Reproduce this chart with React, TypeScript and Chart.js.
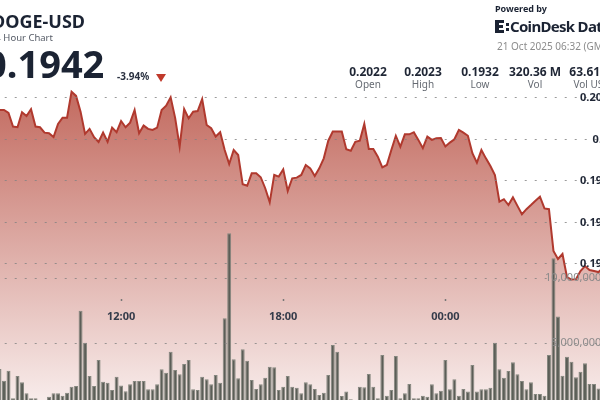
import React, { useEffect, useRef } from 'react';
import { Chart, registerables } from 'chart.js';

Chart.register(...registerables);

// 10-minute candles, 20 Oct 06:40 -> 21 Oct 06:30 (GMT)
const timeLabels: string[] = (() => {
  const out: string[] = [];
  for (let k = 0; k < 144; k++) {
    const m = 6 * 60 + 40 + k * 10;
    const h = Math.floor(m / 60) % 24;
    const mm = m % 60;
    out.push(`${String(h).padStart(2, '0')}:${String(mm).padStart(2, '0')}`);
  }
  return out;
})();

const xTickLabels = ['12:00', '18:00', '00:00'];
const volumeTickValues = [5000000, 10000000];

const prices = [
  0.20214, 0.20190, 0.20171, 0.20152, 0.20161, 0.20142, 0.20142, 0.20128, 0.20062, 0.20059,
  0.20131, 0.20113, 0.20146, 0.20062, 0.20059, 0.20033, 0.20030, 0.20012, 0.20075, 0.20105,
  0.20105, 0.20230, 0.20210, 0.20134, 0.20027, 0.20051, 0.20011, 0.19988, 0.20033, 0.19989,
  0.20057, 0.20035, 0.20089, 0.20059, 0.20081, 0.20142, 0.20030, 0.20067, 0.20051, 0.20046,
  0.20057, 0.20142, 0.20163, 0.20203, 0.20104, 0.19965, 0.20147, 0.20102, 0.20134, 0.20137,
  0.20195, 0.20070, 0.20054, 0.20014, 0.20035, 0.19949, 0.19882, 0.19949, 0.19925, 0.19784,
  0.19777, 0.19837, 0.19837, 0.19818, 0.19765, 0.19697, 0.19829, 0.19821, 0.19856, 0.19752,
  0.19813, 0.19816, 0.19829, 0.19877, 0.19861, 0.19824, 0.19861, 0.19909, 0.19994, 0.20038,
  0.20038, 0.20038, 0.19953, 0.19946, 0.19989, 0.19994, 0.20075, 0.19954, 0.19954, 0.19917,
  0.19866, 0.19877, 0.19949, 0.20017, 0.19965, 0.20025, 0.20025, 0.20035, 0.19998, 0.19958,
  0.20014, 0.19998, 0.20006, 0.20007, 0.19966, 0.19985, 0.20001, 0.20046, 0.20033, 0.20018,
  0.19934, 0.19888, 0.19949, 0.19909, 0.19872, 0.19829, 0.19700, 0.19712, 0.19684, 0.19721,
  0.19680, 0.19640, 0.19664, 0.19684, 0.19705, 0.19724, 0.19668, 0.19664, 0.19463, 0.19424,
  0.19448, 0.19337, 0.19325, 0.19327, 0.19366, 0.19390, 0.19371, 0.19366, 0.19361, 0.19381,
  0.19395, 0.19410, 0.19415, 0.19420,
];

// volume in millions of DOGE
const volumesM = [
  1.8, 2.2, 1.5, 2.5, 1.9, 3.0, 2.1,
  2.87, 0.75, 2.46, 1.98, 1.13, 0.75, 0.75,
  0.62, 0.56, 0.87, 1.13, 1.13, 0.95, 1.18,
  1.64, 1.69, 7.48, 5.02, 2.46, 1.69, 3.69,
  2.02, 1.95, 1.38, 2.41, 1.74, 1.28, 1.82,
  2.08, 2.08, 2.08, 1.44, 1.44, 1.82, 2.98,
  2.72, 4.33, 2.92, 2.59, 3.38, 3.69, 1.44,
  1.38, 2.41, 2.21, 1.82, 2.54, 1.95, 6.9,
  13.44, 3.75, 2.28, 4.51, 3.64, 2.15, 1.46,
  1.82, 2.33, 3.18, 3.13, 1.38, 1.64, 2.46,
  1.64, 1.56, 1.13, 1.98, 1.82, 1.46, 1.0,
  1.18, 2.54, 4.85, 4.33, 0.92, 1.26, 0.67,
  0.6, 1.64, 1.59, 2.62, 1.64, 0.75, 4.08,
  0.95, 1.38, 4.0, 0.75, 1.13, 1.85, 0.75,
  0.75, 0.95, 0.87, 1.82, 1.13, 1.33, 3.69,
  1.44, 2.21, 0.95, 1.46, 1.26, 3.31, 1.26,
  1.44, 1.44, 1.56, 5.02, 2.98, 2.33, 2.85,
  3.51, 2.59, 2.08, 1.44, 1.98, 1.08, 1.08,
  0.95, 4.08, 11.51, 7.03, 2.49, 3.95, 3.56,
  2.36, 2.79, 3.44, 1.85, 1.85, 1.5, 2.0,
  1.7, 1.2, 1.4, 1.0,
];

const statValues = ['0.2022', '0.2023', '0.1932', '320.36 M', '63.61 M'];
const statLabels = ['Open', 'High', 'Low', 'Vol', 'Vol USD'];
const statCenters = [368, 423, 480, 535, 592];

const FONT = '"Noto Sans", sans-serif';
const GRID = 'rgba(130,130,130,0.8)';

export default function App() {
  const ref = useRef<HTMLCanvasElement>(null);

  useEffect(() => {
    document.body.style.margin = '0';
    Chart.defaults.font.family = FONT;
    const canvas = ref.current!;
    const chart = new Chart(canvas, {
      type: 'bar',
      data: {
        labels: timeLabels,
        datasets: [
          {
            type: 'line',
            label: 'Price',
            data: prices,
            yAxisID: 'y',
            borderColor: '#b0392e',
            borderWidth: 2,
            pointRadius: 0,
            tension: 0,
            fill: 'start',
            order: 0,
            backgroundColor: (ctx: any) => {
              const a = ctx.chart.chartArea;
              if (!a) return 'rgba(0,0,0,0)';
              const g = ctx.chart.ctx.createLinearGradient(0, a.top, 0, a.bottom);
              g.addColorStop(0, 'rgb(189,93,81)');
              g.addColorStop(1, 'rgb(249,239,238)');
              return g;
            },
          } as any,
          {
            type: 'bar',
            label: 'Volume',
            data: volumesM.map((v) => v * 1e6),
            yAxisID: 'vol',
            backgroundColor: '#5b5e57',
            borderColor: '#85877f',
            borderWidth: 1,
            barPercentage: 0.88,
            categoryPercentage: 1,
            order: 1,
          } as any,
        ],
      },
      options: {
        responsive: false,
        animation: false,
        layout: { padding: { top: 60, left: 0, right: 0, bottom: 0 } },
        plugins: {
          legend: { display: false },
          tooltip: { enabled: false },
          filler: { drawTime: 'beforeDatasetsDraw' },
        } as any,
        scales: {
          x: {
            type: 'category',
            position: { y: 0.19231 } as any,
            offset: true,
            border: { display: false, z: 1 },
            grid: {
              z: 1,
              offset: false,
              drawOnChartArea: false,
              drawTicks: true,
              tickLength: 2,
              tickWidth: 1.5,
              tickColor: (ctx: any) => (ctx.tick && ctx.tick.label ? '#777' : 'rgba(0,0,0,0)'),
            },
            ticks: {
              z: 1,
              autoSkip: false,
              maxRotation: 0,
              minRotation: 0,
              padding: 9,
              color: '#343b4a',
              font: { family: FONT, size: 11, weight: 'bold' },
              callback: (_v: any, i: number) => (xTickLabels.includes(timeLabels[i]) ? timeLabels[i] : ''),
            },
          } as any,
          y: {
            type: 'linear',
            position: 'right',
            min: 0.18706,
            max: 0.20383,
            afterFit: (s: any) => { s.width = 0; },
            border: { display: false, dash: [2, 8], z: 1 },
            grid: {
              z: 1,
              drawTicks: false,
              lineWidth: 1,
              color: (ctx: any) => (ctx.tick && ctx.tick.value >= 0.1939 ? GRID : 'rgba(0,0,0,0)'),
            },
            ticks: {
              z: 1,
              stepSize: 0.002,
              includeBounds: false,
              mirror: true,
              padding: -15,
              color: '#1f2635',
              font: { family: FONT, size: 11, weight: 'bold' },
              callback: (v: any) => (Number(v) >= 0.1939 ? String(+Number(v).toFixed(4)) : null),
            },
          } as any,
          vol: {
            type: 'linear',
            axis: 'y',
            position: 'right',
            display: true,
            min: 0,
            max: 26770000,
            afterFit: (s: any) => { s.width = 0; },
            afterBuildTicks: (s: any) => {
              s.ticks = volumeTickValues.map((v) => ({ value: v }));
            },
            border: { display: false, dash: [2, 8], z: 1 },
            grid: {
              z: 1,
              drawTicks: false,
              lineWidth: 1,
              color: GRID,
            },
            ticks: {
              z: 1,
              mirror: true,
              padding: -22,
              color: '#8a8a8a',
              font: { family: FONT, size: 11 },
              callback: (v: any) => Number(v).toLocaleString('en-US'),
            },
          } as any,
        },
      },
    });
    return () => chart.destroy();
  }, []);

  const abs = (s: React.CSSProperties): React.CSSProperties => ({ position: 'absolute', whiteSpace: 'nowrap', lineHeight: 1, ...s });

  return (
    <div style={{ position: 'fixed', left: 0, top: 0, width: 600, height: 400, overflow: 'hidden', background: '#fff', fontFamily: FONT }}>
      <canvas ref={ref} width={662} height={408} style={{ position: 'absolute', left: -32, top: 0, width: 662, height: 408 }} />
      <div style={abs({ left: -8, top: 12, fontSize: 18, fontWeight: 700, color: '#1b2333' })}>DOGE-USD</div>
      <div style={abs({ left: -10, top: 33, fontSize: 9.5, color: '#555b66' })}>24 Hour Chart</div>
      <div style={abs({ left: -15, top: 44, fontSize: 38, fontWeight: 700, color: '#1b2333' })}>0.1942</div>
      <div style={abs({ left: 117, top: 71, fontSize: 10, fontWeight: 700, color: '#2a3140' })}>-3.94%</div>
      <div style={abs({ left: 156, top: 74, width: 0, height: 0, borderLeft: '5px solid transparent', borderRight: '5px solid transparent', borderTop: '8px solid #c0392b' })} />

      <div style={abs({ left: 495, top: 4, fontSize: 9, fontWeight: 700, color: '#1b2333' })}>Powered by</div>
      <div style={abs({ left: 495, top: 20, width: 4, height: 13, background: '#1b2333' })} />
      <div style={abs({ left: 499, top: 20, width: 5, height: 3, background: '#1b2333' })} />
      <div style={abs({ left: 499, top: 25, width: 4, height: 3, background: '#1b2333' })} />
      <div style={abs({ left: 499, top: 30, width: 5, height: 3, background: '#1b2333' })} />
      <div style={abs({ left: 506, top: 23, width: 2.5, height: 2.5, background: '#1b2333' })} />
      <div style={abs({ left: 506, top: 28, width: 2.5, height: 2.5, background: '#1b2333' })} />
      <div style={abs({ left: 510, top: 19, fontSize: 15, fontWeight: 700, color: '#1b2333', letterSpacing: -0.7 })}>CoinDesk Data</div>
      <div style={abs({ left: 497, top: 41, fontSize: 10, color: '#8c8c8c' })}>21 Oct 2025 06:32 (GMT)</div>

      {statValues.map((v, i) => (
        <div key={'v' + i} style={abs({ left: statCenters[i] - 40, width: 80, textAlign: 'center', top: 66, fontSize: 12, fontWeight: 700, color: '#1f2635' })}>{v}</div>
      ))}
      {statLabels.map((v, i) => (
        <div key={'l' + i} style={abs({ left: statCenters[i] - 40, width: 80, textAlign: 'center', top: 79, fontSize: 10, color: '#666b73' })}>{v}</div>
      ))}
    </div>
  );
}
